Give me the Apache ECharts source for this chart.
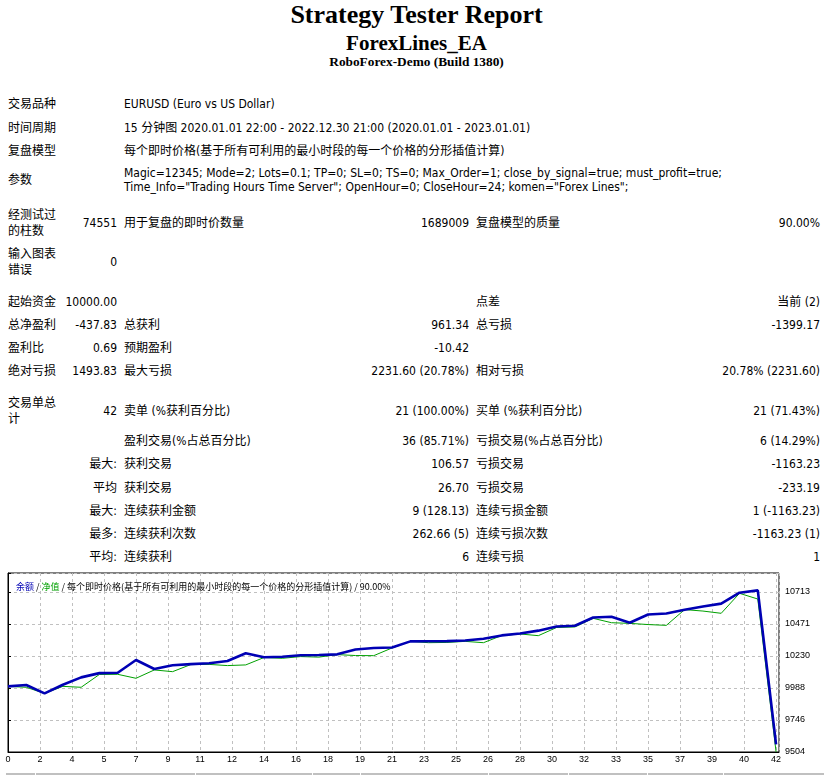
<!DOCTYPE html>
<html>
<head>
<meta charset="utf-8">
<title>Strategy Tester: ForexLines_EA</title>
<script src="https://cdn.jsdelivr.net/npm/echarts@6/dist/echarts.min.js"></script>
<style>
html,body{margin:0;padding:0;background:#fff;overflow:hidden;width:833px;height:775px;}
body{position:relative;font-size:12px;line-height:16px;font-family:"DejaVu Sans Condensed","Liberation Sans","Noto Sans CJK SC",sans-serif;color:#000;}
.h{position:absolute;left:0;width:833px;text-align:center;font-family:"Liberation Serif","Times New Roman",serif;font-weight:bold;white-space:nowrap;}
.r{position:absolute;left:0;width:833px;height:16px;}
.c{position:absolute;top:0;height:100%;display:flex;align-items:center;white-space:nowrap;}
.c1{left:8px;}
.c1 > div{width:54px;white-space:normal;}
.c2{left:62px;width:55px;justify-content:flex-end;}
.c12{left:8px;width:109px;justify-content:flex-end;}
.c3{left:124px;}
.c3w{left:124px;line-height:14px;}
.c4{left:300px;width:169px;justify-content:flex-end;}
.c5{left:476px;}
.c6{left:650px;width:170px;justify-content:flex-end;}
#chart{position:absolute;left:0;top:565px;width:833px;height:210px;}
#next{position:absolute;left:6px;top:773px;width:818px;height:2px;background:#c0c0c0;}
#next span{position:absolute;top:0;width:1px;height:2px;background:#fff;}
</style>
</head>
<body>
<div class="h" style="top:1px;height:28px;line-height:28px;font-size:26px;">Strategy Tester Report</div>
<div class="h" style="top:32px;height:22px;line-height:22px;font-size:21px;">ForexLines_EA</div>
<div class="h" style="top:55px;height:14px;line-height:14px;font-size:13.33px;">RoboForex-Demo (Build 1380)</div>

<div class="r" style="top:96px;"><div class="c c1"><div>交易品种</div></div><div class="c c3">EURUSD (Euro vs US Dollar)</div></div>
<div class="r" style="top:120px;"><div class="c c1"><div>时间周期</div></div><div class="c c3">15 分钟图 2020.01.01 22:00 - 2022.12.30 21:00 (2020.01.01 - 2023.01.01)</div></div>
<div class="r" style="top:143px;"><div class="c c1"><div>复盘模型</div></div><div class="c c3">每个即时价格(基于所有可利用的最小时段的每一个价格的分形插值计算)</div></div>
<div class="r" style="top:166px;height:28px;"><div class="c c1"><div>参数</div></div><div class="c c3w">Magic=12345; Mode=2; Lots=0.1; TP=0; SL=0; TS=0; Max_Order=1; close_by_signal=true; must_profit=true;<br>Time_Info="Trading Hours Time Server"; OpenHour=0; CloseHour=24; komen="Forex Lines";</div></div>

<div class="r" style="top:207px;height:32px;"><div class="c c1"><div>经测试过的柱数</div></div><div class="c c2">74551</div><div class="c c3">用于复盘的即时价数量</div><div class="c c4">1689009</div><div class="c c5">复盘模型的质量</div><div class="c c6">90.00%</div></div>
<div class="r" style="top:246px;height:32px;"><div class="c c1"><div>输入图表错误</div></div><div class="c c2">0</div></div>

<div class="r" style="top:294px;"><div class="c c1"><div>起始资金</div></div><div class="c c2">10000.00</div><div class="c c5">点差</div><div class="c c6">当前 (2)</div></div>
<div class="r" style="top:317px;"><div class="c c1"><div>总净盈利</div></div><div class="c c2">-437.83</div><div class="c c3">总获利</div><div class="c c4">961.34</div><div class="c c5">总亏损</div><div class="c c6">-1399.17</div></div>
<div class="r" style="top:340px;"><div class="c c1"><div>盈利比</div></div><div class="c c2">0.69</div><div class="c c3">预期盈利</div><div class="c c4">-10.42</div></div>
<div class="r" style="top:363px;"><div class="c c1"><div>绝对亏损</div></div><div class="c c2">1493.83</div><div class="c c3">最大亏损</div><div class="c c4">2231.60 (20.78%)</div><div class="c c5">相对亏损</div><div class="c c6">20.78% (2231.60)</div></div>

<div class="r" style="top:395px;height:32px;"><div class="c c1"><div>交易单总计</div></div><div class="c c2">42</div><div class="c c3">卖单 (%获利百分比)</div><div class="c c4">21 (100.00%)</div><div class="c c5">买单 (%获利百分比)</div><div class="c c6">21 (71.43%)</div></div>
<div class="r" style="top:433px;"><div class="c c3">盈利交易(%占总百分比)</div><div class="c c4">36 (85.71%)</div><div class="c c5">亏损交易(%占总百分比)</div><div class="c c6">6 (14.29%)</div></div>
<div class="r" style="top:456px;"><div class="c c12">最大:</div><div class="c c3">获利交易</div><div class="c c4">106.57</div><div class="c c5">亏损交易</div><div class="c c6">-1163.23</div></div>
<div class="r" style="top:480px;"><div class="c c12">平均</div><div class="c c3">获利交易</div><div class="c c4">26.70</div><div class="c c5">亏损交易</div><div class="c c6">-233.19</div></div>
<div class="r" style="top:503px;"><div class="c c12">最大:</div><div class="c c3">连续获利金额</div><div class="c c4">9 (128.13)</div><div class="c c5">连续亏损金额</div><div class="c c6">1 (-1163.23)</div></div>
<div class="r" style="top:526px;"><div class="c c12">最多:</div><div class="c c3">连续获利次数</div><div class="c c4">262.66 (5)</div><div class="c c5">连续亏损次数</div><div class="c c6">-1163.23 (1)</div></div>
<div class="r" style="top:549px;"><div class="c c12">平均:</div><div class="c c3">连续获利</div><div class="c c4">6</div><div class="c c5">连续亏损</div><div class="c c6">1</div></div>

<div id="chart"></div>
<div id="next"><span style="left:29px"></span><span style="left:189px"></span><span style="left:306px"></span><span style="left:354px"></span><span style="left:482px"></span><span style="left:562px"></span><span style="left:641px"></span><span style="left:717px"></span></div>

<script>
// ---- chart data ----
const tradeNumbers = [0,1,2,3,4,5,6,7,8,9,10,11,12,13,14,15,16,17,18,19,20,21,22,23,24,25,26,27,28,29,30,31,32,33,34,35,36,37,38,39,40,41,42];
const balanceValues = [10000,10010,9947,10012,10068,10100,10103,10199,10131,10160,10168,10175,10192,10250,10220,10224,10235,10237,10242,10278,10290,10294,10340,10341,10342,10346,10360,10385,10400,10421,10452,10458,10520,10526,10481,10543,10550,10579,10603,10625,10708,10725.4,9562.17];
const equityValues  = [10000,9993,9947,10000,9993,10090,10091,10061,10124,10111,10165,10166,10157,10162,10218,10212,10225,10221,10240,10233,10232,10290,10340,10330,10332,10340,10330,10384,10396,10383,10445,10449,10514,10481,10476,10467,10461,10580,10569,10552,10703,10660,9505];
const xTickLabels = ['0','2','4','5','7','9','11','12','14','16','18','19','21','23','25','26','28','30','32','33','35','37','39','40','42'];
const yTickLabels = ['9504','9746','9988','10230','10471','10713'];
const legendBalance = '余额';
const legendEquity = '净值';
const modelText = '每个即时价格(基于所有可利用的最小时段的每一个价格的分形插值计算)';
const qualityText = '90.00%';

const xStep = 1.75, xMax = 42.16;
const yMin = 9504, yStep = 241.8, yMax = 10856.6;

const balanceData = tradeNumbers.map((t, i) => [t, balanceValues[i]]);
const equityData = tradeNumbers.map((t, i) => [t, equityValues[i]]);

const chart = echarts.init(document.getElementById('chart'), null, {renderer: 'canvas'});
const axisFont = 'Liberation Sans';
chart.setOption({
  animation: false,
  title: {
    text: '{b|' + legendBalance + '} / {g|' + legendEquity + '} / ' + modelText + ' / ' + qualityText,
    left: 11, top: 12,
    textStyle: {
      fontSize: 9, fontWeight: 'normal', color: '#000', fontFamily: 'Noto Sans CJK SC',
      rich: {
        b: {color: '#0000b4', fontSize: 9, fontFamily: 'Noto Sans CJK SC'},
        g: {color: '#00a000', fontSize: 9, fontFamily: 'Noto Sans CJK SC'}
      }
    }
  },
  grid: {left: 8, top: 8, width: 771, height: 179, show: true, borderColor: '#000', borderWidth: 1, backgroundColor: '#fff'},
  xAxis: {
    type: 'value', min: 0, max: xMax, interval: xStep,
    axisLine: {show: true, onZero: false, lineStyle: {color: '#000', width: 1}},
    axisTick: {show: false},
    axisLabel: {
      margin: 3, fontSize: 9, color: '#000', fontFamily: axisFont,
      showMinLabel: true, showMaxLabel: true,
      formatter: function (v) {
        const n = Math.round(v / xStep);
        if (Math.abs(v - n * xStep) > 0.01 || xTickLabels[n] === undefined) return '';
        return xTickLabels[n];
      }
    },
    splitLine: {show: true, lineStyle: {color: '#c0c0c0', width: 1, type: [3, 3]}}
  },
  yAxis: {
    type: 'value', position: 'right', min: yMin, max: yMax, interval: yStep,
    axisLine: {show: true, lineStyle: {color: '#000', width: 1}},
    axisTick: {show: true, length: 3, lineStyle: {color: '#000'}},
    axisLabel: {
      margin: 6, fontSize: 9, color: '#000', fontFamily: axisFont,
      showMinLabel: true, showMaxLabel: true,
      formatter: function (v) {
        const n = Math.round((v - yMin) / yStep);
        if (Math.abs(v - (yMin + n * yStep)) > 1 || yTickLabels[n] === undefined) return '';
        return yTickLabels[n];
      }
    },
    splitLine: {show: true, lineStyle: {color: '#c0c0c0', width: 1, type: [3, 3]}}
  },
  series: [
    {name: legendEquity, type: 'line', data: equityData, symbol: 'none', z: 2,
     lineStyle: {color: '#00a000', width: 1}, itemStyle: {color: '#00a000'}},
    {name: legendBalance, type: 'line', data: balanceData, symbol: 'none', z: 3,
     lineStyle: {color: '#0000b4', width: 2.6}, itemStyle: {color: '#0000b4'}}
  ]
});
</script>
</body>
</html>
